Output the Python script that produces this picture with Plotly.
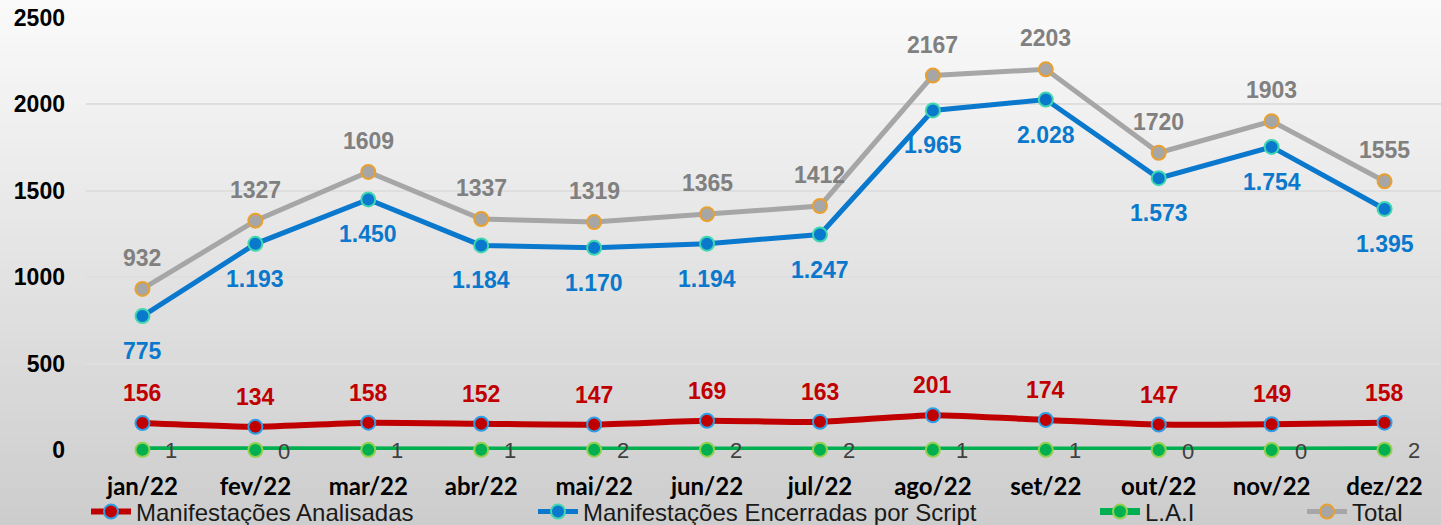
import plotly.graph_objects as go

categories = ["jan/22", "fev/22", "mar/22", "abr/22", "mai/22", "jun/22",
              "jul/22", "ago/22", "set/22", "out/22", "nov/22", "dez/22"]
analisadas = [156, 134, 158, 152, 147, 169, 163, 201, 174, 147, 149, 158]
encerradas = [775, 1193, 1450, 1184, 1170, 1194, 1247, 1965, 2028, 1573, 1754, 1395]
lai = [1, 0, 1, 1, 2, 2, 2, 1, 1, 0, 0, 2]
total = [932, 1327, 1609, 1337, 1319, 1365, 1412, 2167, 2203, 1720, 1903, 1555]
y_ticks = [0, 500, 1000, 1500, 2000, 2500]

W, H = 1441, 525
PL, PT, PB = 86, 18, 450   # plot area pixel edges (left, top, bottom)

fig = go.Figure()

def add_series(name, y, line_color, fill, border, lw, legend, shape="linear"):
    fig.add_trace(go.Scatter(
        x=categories, y=y, name=name, mode="lines+markers",
        line=dict(color=line_color, width=lw, shape=shape, smoothing=0.5),
        marker=dict(size=14, color=fill, line=dict(color=border, width=2)),
        cliponaxis=False, legend=legend, hoverinfo="skip"))

add_series("L.A.I", lai, "#00b050", "#00b050", "#92d050", 7, "legend3")
add_series("Manifestações Analisadas", analisadas, "#c00000", "#c00000", "#2e9fe6", 6, "legend", "spline")
add_series("Total", total, "#a6a6a6", "#a6a6a6", "#e8a030", 5, "legend4")
add_series("Manifestações Encerradas por Script", encerradas, "#0a78cc", "#0a78cc", "#3fd6b0", 5, "legend2")

def fmt_pt(v):
    return f"{v:,}".replace(",", ".")

annos = []
label_font = dict(family="Liberation Sans, Arial", size=23)
for c, v in zip(categories, total):
    annos.append(dict(x=c, y=v, text=f"<b>{v}</b>", showarrow=False, yshift=31,
                      font=dict(color="#808080", **label_font)))
for c, v in zip(categories, encerradas):
    annos.append(dict(x=c, y=v, text=f"<b>{fmt_pt(v)}</b>", showarrow=False, yshift=-35,
                      font=dict(color="#0a78cc", **label_font)))
for c, v in zip(categories, analisadas):
    annos.append(dict(x=c, y=v, text=f"<b>{v}</b>", showarrow=False, yshift=30,
                      font=dict(color="#c00000", **label_font)))
for c, v in zip(categories, lai):
    annos.append(dict(x=c, y=v, text=str(v), showarrow=False, xshift=29, yshift=-1,
                      font=dict(color="#404040", family="Liberation Sans, Arial", size=22)))

# background gradient (paper covers full figure since margins are 0)
shapes = []
n = 60
top = (250, 250, 250)
bot = (205, 205, 205)
for i in range(n):
    t = i / (n - 1)
    col = tuple(int(round(top[k] + (bot[k] - top[k]) * t)) for k in range(3))
    shapes.append(dict(type="rect", xref="paper", yref="paper", layer="below",
                       x0=-0.01, x1=1.01,
                       y1=1 - i / n + 0.002, y0=1 - (i + 1) / n - 0.002,
                       fillcolor=f"rgb{col}", line=dict(width=0)))

ly = (H - 512) / H
leg_common = dict(orientation="h", yanchor="middle", y=ly, xanchor="left",
                  bgcolor="rgba(0,0,0,0)", itemwidth=40,
                  font=dict(family="Liberation Sans, Arial", size=24, color="#1a1a1a"))

fig.update_layout(
    width=W, height=H,
    margin=dict(l=0, r=0, t=0, b=0, pad=0, autoexpand=False),
    paper_bgcolor="#cdcdcd", plot_bgcolor="rgba(0,0,0,0)",
    shapes=shapes, annotations=annos,
    showlegend=True,
    legend=dict(x=86 / W, **leg_common),
    legend2=dict(x=533 / W, **leg_common),
    legend3=dict(x=1095 / W, **leg_common),
    legend4=dict(x=1302 / W, **leg_common),
    xaxis=dict(type="category", range=[-0.5, 11.5], domain=[PL / W, 1],
               showgrid=False, zeroline=False, automargin=False,
               showline=False, ticks="", ticklabelstandoff=20,
               tickfont=dict(family="Lato", size=24, color="#000000", weight="bold")),
    yaxis=dict(range=[0, 2500], tickvals=y_ticks, domain=[(H - PB) / H, 1 - PT / H],
               showgrid=True, gridcolor="#dedede", automargin=False,
               gridwidth=1.5, zeroline=False, showline=False, ticklabelstandoff=20,
               tickfont=dict(family="Liberation Sans, Arial", size=23, color="#000000", weight="bold")),
)

fig.write_html("out.html", config={"displayModeBar": False},
               post_script="document.body.style.margin='0';document.body.style.overflow='hidden';")
